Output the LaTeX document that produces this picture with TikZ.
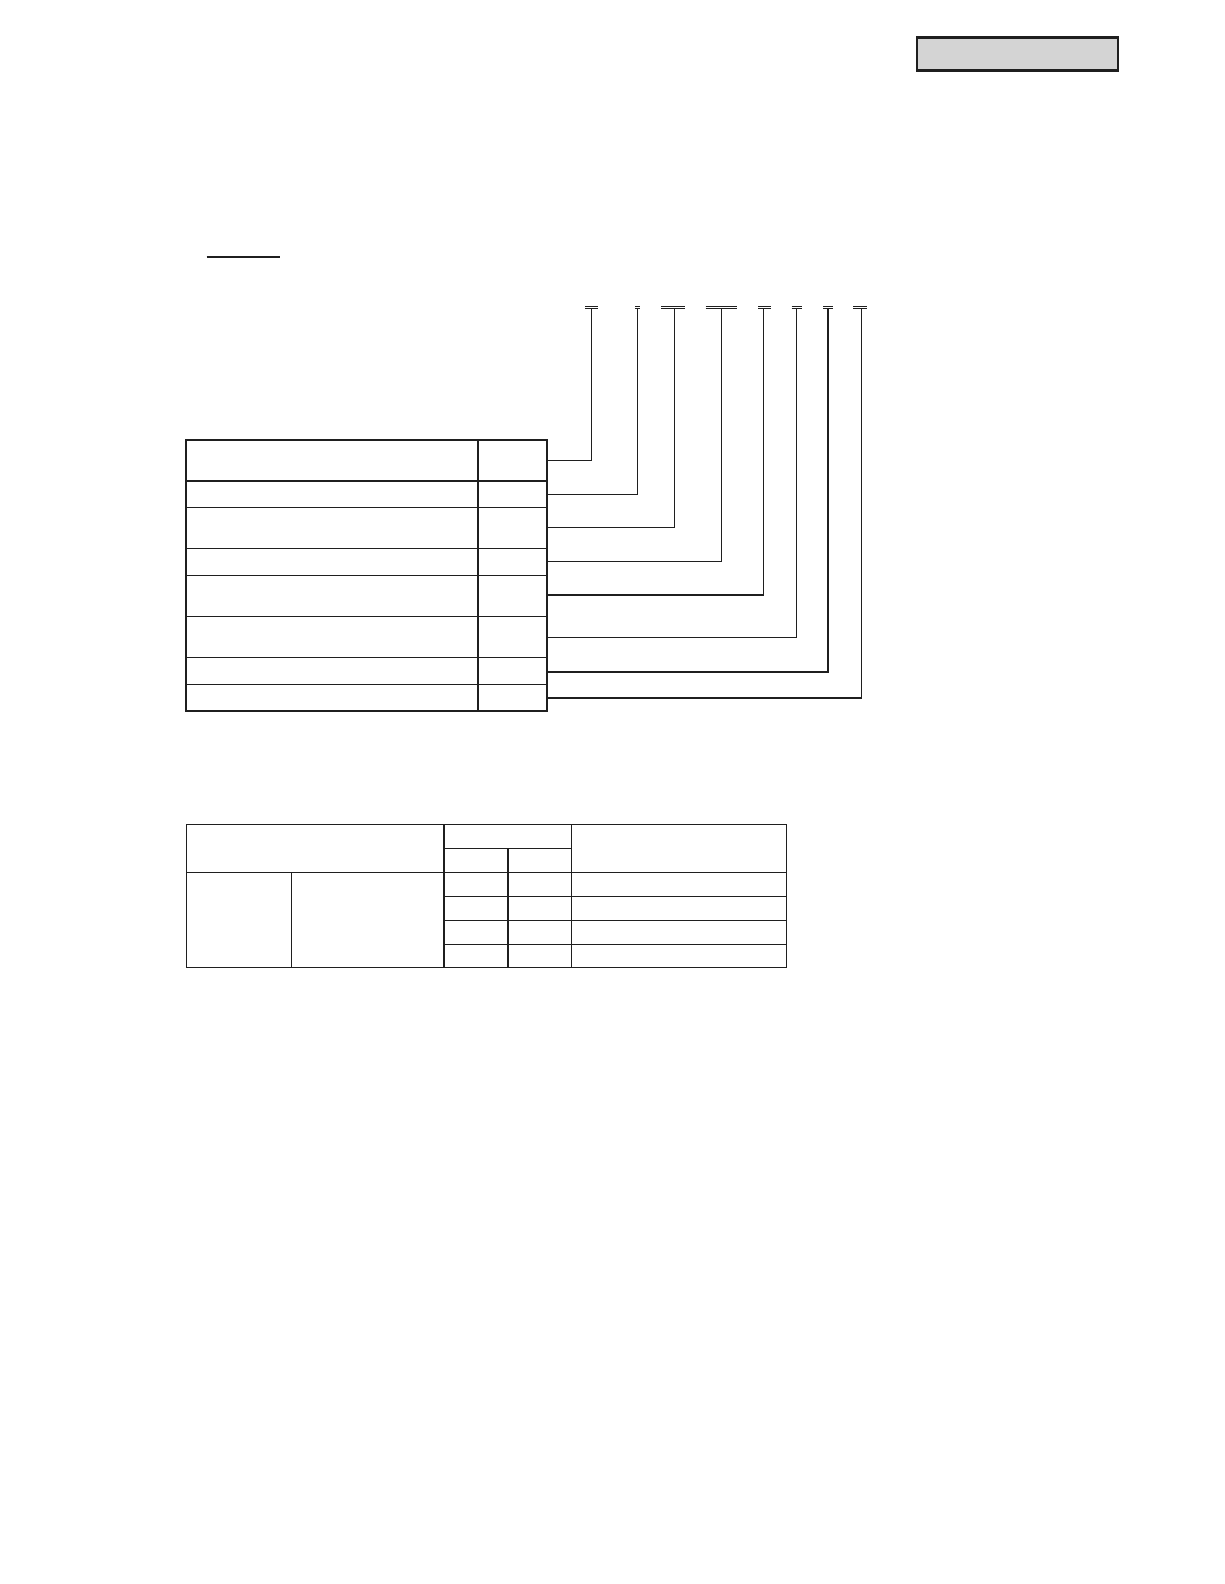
\documentclass[tikz,border=0pt]{standalone}
\begin{document}
\begin{tikzpicture}[x=1pt,y=-1pt,
  outer/.style={line width=2.2pt,draw=black!88},
  inner/.style={line width=1.2pt,draw=black!88},
  conn/.style={line width=1.2pt,draw=black!88},
  bar/.style={line width=1.0pt,draw=black!88},
  tab/.style={line width=1.2pt,draw=black!88},
  tabout/.style={line width=1.5pt,draw=black!88}]
\useasboundingbox (0,0) rectangle (1224,1584);
% top-right grey box
\draw[line width=2.4pt,draw=black!88,fill=black!17] (916.7,37.5) rectangle (1118,70.5);
% underline
\draw[line width=2pt,draw=black!88] (206.7,256.7) -- (280,256.7);
% T bars at top
\foreach \a/\b/\v [count=\i] in {585/598.3/591.7, 635/640/637.3, 661/685/674.3, 705.7/736.7/721.7, 758.3/771/763.3, 791.7/802.3/796.5, 823.3/833.3/828.3, 853.3/866.7/861.2}{
  \draw[bar] (\a,306) -- (\b,306);
  \draw[bar] (\a,308.7) -- (\b,308.7);
  \coordinate (t\i) at (\v,309);
}
% table 1
\foreach \y in {507.3,548.3,575.3,616.3,657.3,684.3}{
  \draw[inner] (186,\y) -- (547.3,\y);
}
\draw[line width=2pt,draw=black!88] (186,480.7) -- (547.3,480.7);
\draw[outer] (477.7,440) -- (477.7,710.7);
\draw[outer] (186,440) rectangle (547.3,710.7);
% connectors
\foreach \y [count=\i] in {460.3,494.3,527.3,561.3,595,637.3,671.7,698}{
  \coordinate (r\i) at (547.3,\y);
}
\foreach \i in {1,2,3,4,5,6,8}{
  \draw[conn] (r\i) -| (t\i);
}
\draw[line width=2pt,draw=black!88] (r7) -| (t7);
% table 2
\draw[tab] (444,848.3) -- (571.7,848.3);
\draw[tab] (186.6,872.3) -- (786.7,872.3);
\foreach \y in {896.3,920.3,944.3}{
  \draw[tab] (444,\y) -- (786.7,\y);
}
\draw[tab] (291.8,872.3) -- (291.8,967.7);
\draw[tab] (444,824.7) -- (444,967.7);
\draw[tab] (507.9,848.3) -- (507.9,967.7);
\draw[tab] (571.7,824.7) -- (571.7,967.7);
\draw[tabout] (186.6,824.7) rectangle (786.7,967.7);
\end{tikzpicture}
\end{document}
